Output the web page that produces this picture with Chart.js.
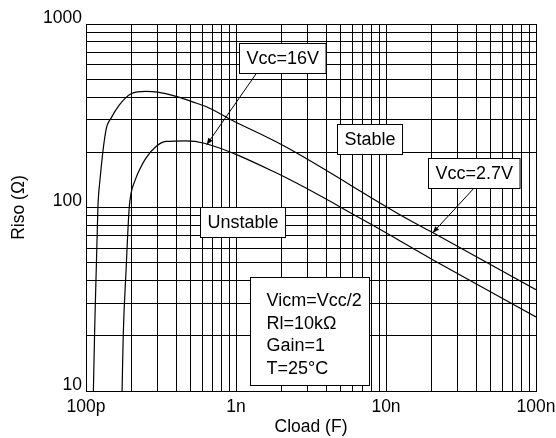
<!DOCTYPE html>
<html>
<head>
<meta charset="utf-8">
<script src="https://cdn.jsdelivr.net/npm/chart.js@4.4.0/dist/chart.umd.min.js"></script>
<style>
  html, body { margin: 0; padding: 0; background: #fff; overflow: hidden; }
  #wrap { width: 556px; height: 438px; position: relative; }
</style>
</head>
<body>
<div id="wrap"><canvas id="risoChart"></canvas></div>
<script>
// --- data ---
// Vcc=2.7V (upper curve)
const cload27 = [1.12e-10, 1.14e-10, 1.20e-10, 1.24e-10, 1.36e-10, 1.47e-10, 1.67e-10, 2.0e-10, 2.51e-10, 3.01e-10, 3.98e-10, 5.41e-10, 6.31e-10, 9.55e-10, 1.85e-9, 2.54e-9, 1.42e-8, 2.06e-8, 1e-7];
const riso27   = [10, 19.8, 99, 142, 265, 307, 363, 417, 429, 425, 403, 371, 355, 297, 228, 198, 85.7, 72.8, 35.6];
// Vcc=16V (lower curve)
const cload16 = [1.74e-10, 1.77e-10, 1.85e-10, 1.94e-10, 2.0e-10, 2.13e-10, 2.27e-10, 2.51e-10, 2.93e-10, 3.41e-10, 4.64e-10, 6.15e-10, 1.85e-9, 7.03e-9, 2.06e-8, 1e-7];
const riso16   = [10, 19.8, 45.7, 99, 120, 141.5, 160, 186, 215, 229, 231, 224, 154.5, 85.7, 51.8, 25.3];

const xTickValues = [1e-10, 1e-9, 1e-8, 1e-7];
const xTickLabels = ['100p', '1n', '10n', '100n'];
const yTickValues = [10, 100, 1000];
const yTickLabels = ['10', '100', '1000'];

// boxed labels (centre in data units) and arrows (from -> to in data units)
const noteTexts = ['Vcc=16V', 'Stable', 'Vcc=2.7V', 'Unstable'];
const noteAt = [[2.05e-9, 652], [7.81e-9, 235], [3.86e-8, 155], [1.1e-9, 83.8]];
const arrowFrom = [[1.374e-9, 541], [3.88e-8, 128]];
const arrowTo = [[6.38e-10, 220], [2.05e-8, 72.8]];
const condLines = ['Vicm=Vcc/2', 'Rl=10k\u03A9', 'Gain=1', 'T=25\u00B0C'];
const condAt = [3.1e-9, 21.2];

const FONT = '"Liberation Sans", Arial, sans-serif';

// grid lines at 1..9 of every decade
function decadeGrid(decades) {
    const out = [];
    for (let i = 0; i < decades.length - 1; i++) {
        for (let k = 1; k < 10; k++) out.push(decades[i] * k);
    }
    out.push(decades[decades.length - 1]);
    return out;
}

function labelFor(values, labels, v) {
    const i = values.findIndex(t => Math.abs(t / v - 1) < 1e-6);
    return i >= 0 ? labels[i] : '';
}

const notesPlugin = {
    id: 'notes',
    afterDatasetsDraw(chart) {
        const { ctx } = chart;
        const xs = chart.scales.x, ys = chart.scales.y;
        ctx.save();
        ctx.strokeStyle = '#000';
        ctx.lineWidth = 1;

        // arrows
        arrowFrom.forEach((f, i) => {
            const x0 = xs.getPixelForValue(f[0]), y0 = ys.getPixelForValue(f[1]);
            const x1 = xs.getPixelForValue(arrowTo[i][0]), y1 = ys.getPixelForValue(arrowTo[i][1]);
            ctx.beginPath();
            ctx.moveTo(x0, y0);
            ctx.lineTo(x1, y1);
            ctx.stroke();
            const a = Math.atan2(y1 - y0, x1 - x0);
            const len = 7, spread = 0.38;
            ctx.beginPath();
            ctx.moveTo(x1, y1);
            ctx.lineTo(x1 - len * Math.cos(a - spread), y1 - len * Math.sin(a - spread));
            ctx.lineTo(x1 - len * Math.cos(a + spread), y1 - len * Math.sin(a + spread));
            ctx.closePath();
            ctx.fillStyle = '#000';
            ctx.fill();
        });

        ctx.font = '18px ' + FONT;
        ctx.textBaseline = 'middle';
        ctx.textAlign = 'left';

        // simple boxed labels
        noteTexts.forEach((t, i) => {
            const cx = xs.getPixelForValue(noteAt[i][0]);
            const cy = ys.getPixelForValue(noteAt[i][1]);
            const w = ctx.measureText(t).width + 14;
            const h = 30;
            const bx = Math.round(cx - w / 2) + 0.5, by = Math.round(cy - h / 2) + 0.5;
            ctx.fillStyle = '#fff';
            ctx.fillRect(bx, by, w, h);
            ctx.strokeRect(bx, by, w, h);
            ctx.fillStyle = '#000';
            ctx.fillText(t, bx + 7, cy + 1);
        });

        // conditions box
        const cx = xs.getPixelForValue(condAt[0]);
        const cy = ys.getPixelForValue(condAt[1]);
        const w = 119, h = 108;
        const bx = Math.round(cx - w / 2) + 0.5, by = Math.round(cy - h / 2) + 0.5;
        ctx.fillStyle = '#fff';
        ctx.fillRect(bx, by, w, h);
        ctx.strokeRect(bx, by, w, h);
        ctx.fillStyle = '#000';
        condLines.forEach((t, i) => {
            ctx.fillText(t, bx + 16, by + 24 + i * 22.5);
        });
        ctx.restore();
    }
};

const ctx = document.getElementById('risoChart').getContext('2d');
const risoChart = new Chart(ctx, {
    type: 'line',
    data: {
        datasets: [
            {
                label: 'Vcc=2.7V',
                data: cload27.map((c, i) => ({ x: c, y: riso27[i] })),
                borderColor: '#000',
                borderWidth: 1.2,
                pointRadius: 0,
                cubicInterpolationMode: 'monotone',
                fill: false
            },
            {
                label: 'Vcc=16V',
                data: cload16.map((c, i) => ({ x: c, y: riso16[i] })),
                borderColor: '#000',
                borderWidth: 1.2,
                pointRadius: 0,
                cubicInterpolationMode: 'monotone',
                fill: false
            }
        ]
    },
    options: {
        responsive: true,
        maintainAspectRatio: false,
        animation: false,
        layout: { padding: { top: 24, right: 20, left: 0, bottom: 0 } },
        plugins: {
            legend: { display: false },
            tooltip: { enabled: false }
        },
        scales: {
            x: {
                type: 'logarithmic',
                min: 1e-10,
                max: 1e-7,
                afterBuildTicks: (scale) => {
                    scale.ticks = decadeGrid(xTickValues).map(v => ({ value: v }));
                },
                afterFit: (scale) => {
                    scale.height = 47;
                    scale.paddingLeft = 0;
                    scale.paddingRight = 0;
                },
                ticks: {
                    autoSkip: false,
                    maxRotation: 0,
                    padding: 6,
                    color: '#000',
                    font: { size: 17.5, family: FONT },
                    callback: (v) => labelFor(xTickValues, xTickLabels, v)
                },
                grid: { color: '#000', lineWidth: 1, drawTicks: false },
                border: { color: '#000', width: 1 },
                title: {
                    display: true,
                    text: 'Cload (F)',
                    color: '#000',
                    font: { size: 17.5, family: FONT },
                    padding: { top: 0, bottom: 0.5 }
                }
            },
            y: {
                type: 'logarithmic',
                min: 10,
                max: 1000,
                afterBuildTicks: (scale) => {
                    scale.ticks = decadeGrid(yTickValues).map(v => ({ value: v }));
                },
                afterFit: (scale) => {
                    scale.width = 86;
                    scale.paddingTop = 0;
                    scale.paddingBottom = 0;
                },
                ticks: {
                    autoSkip: false,
                    padding: 4,
                    labelOffset: -6,
                    color: '#000',
                    font: { size: 17.5, family: FONT },
                    callback: (v) => labelFor(yTickValues, yTickLabels, v)
                },
                grid: { color: '#000', lineWidth: 1, drawTicks: false },
                border: { color: '#000', width: 1 },
                title: {
                    display: true,
                    text: 'Riso (\u03A9)',
                    color: '#000',
                    font: { size: 17.5, family: FONT },
                    padding: { top: 9, bottom: 0 }
                }
            }
        }
    },
    plugins: [notesPlugin]
});
</script>
</body>
</html>
